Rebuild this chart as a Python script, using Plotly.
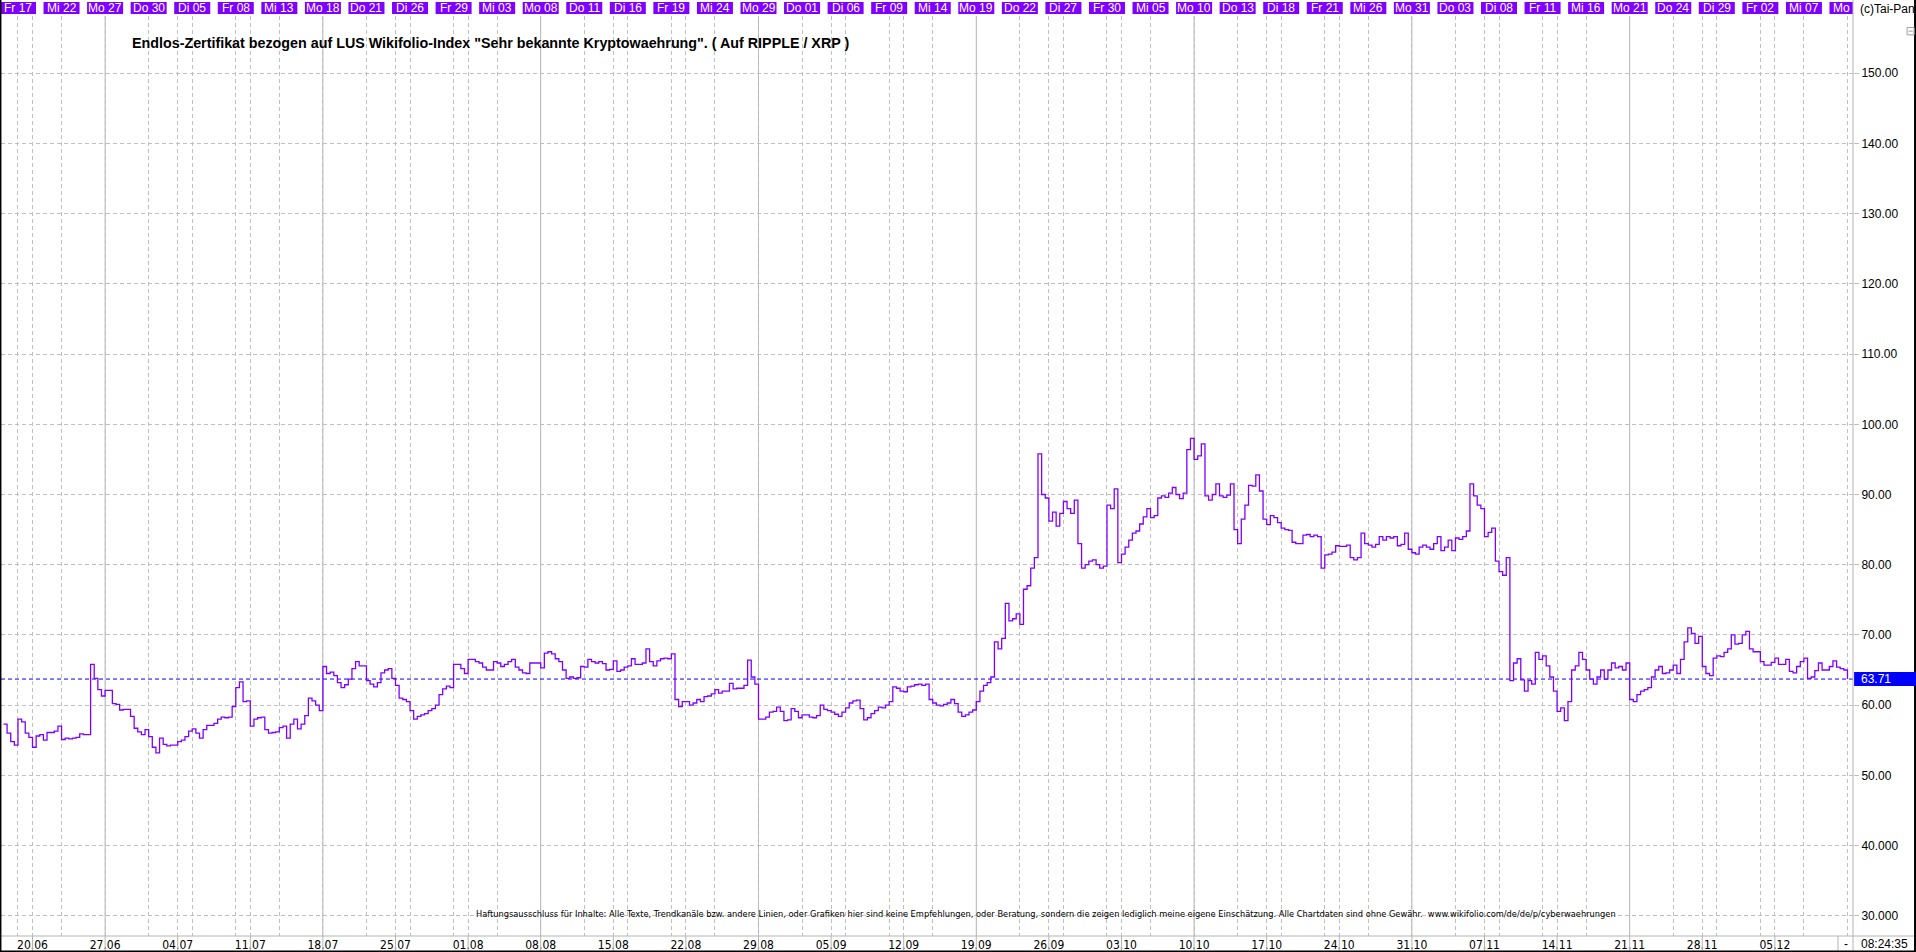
import pandas as pd
import plotly.graph_objects as go

# ---------------- data (4 readings per trading day) ----------------
jun = [
    57.3, 56.0, 54.8, 54.3,   # 16.06
    58.0, 57.6, 56.0, 55.4,   # 17.06
    54.0, 55.6, 55.8, 55.0,   # 20.06
    56.1, 56.1, 56.3, 57.0,   # 21.06
    55.1, 55.3, 55.2, 55.3,   # 22.06
    55.4, 55.9, 55.8, 55.8,   # 23.06
    65.8, 63.8, 62.2, 61.3,   # 24.06
    62.1, 62.1, 60.2, 60.1,   # 27.06
    59.3, 59.4, 59.4, 58.4,   # 28.06
    56.7, 56.2, 55.8, 56.5,   # 29.06
    55.5, 54.0, 53.2, 55.3,   # 30.06
]
jul = [
    54.4, 54.2, 54.3, 54.3,   # 01.07
    54.8, 55.0, 55.5, 56.3,   # 04.07
    56.6, 56.0, 55.3, 56.5,   # 05.07
    57.1, 57.1, 57.4, 58.0,   # 06.07
    58.3, 58.2, 58.3, 59.8,   # 07.07
    62.5, 63.3, 60.5, 60.6,   # 08.07
    57.0, 58.0, 58.2, 58.3,   # 11.07
    56.5, 56.0, 56.1, 56.2,   # 12.07
    56.8, 57.0, 55.3, 57.3,   # 13.07
    58.0, 56.6, 57.3, 58.5,   # 14.07
    61.0, 60.6, 60.0, 59.2,   # 15.07
    65.5, 64.5, 64.7, 64.2,   # 18.07
    63.2, 62.5, 62.9, 63.7,   # 19.07
    65.2, 66.2, 65.6, 65.6,   # 20.07
    63.5, 63.0, 62.6, 63.2,   # 21.07
    64.6, 65.0, 65.2, 63.8,   # 22.07
    62.8, 61.0, 60.8, 60.5,   # 25.07
    59.2, 58.0, 58.4, 58.6,   # 26.07
    58.8, 59.2, 59.5, 60.0,   # 27.07
    61.5, 62.3, 62.7, 62.5,   # 28.07
    65.8, 65.8, 65.2, 64.5,   # 29.07
]
aug = [
    66.5, 66.5, 66.2, 66.0,   # 01.08
    65.4, 65.0, 65.0, 66.2,   # 02.08
    66.0, 65.5, 65.8, 66.2,   # 03.08
    66.5, 65.4, 65.0, 64.6,   # 04.08
    64.5, 66.0, 66.0, 66.0,   # 05.08
    65.3, 67.4, 67.6, 67.3,   # 08.08
    66.6, 66.2, 65.0, 63.8,   # 09.08
    64.0, 63.8, 63.9, 65.5,   # 10.08
    65.4, 66.5, 66.2, 66.0,   # 11.08
    66.2, 65.9, 65.0, 65.1,   # 12.08
    66.3, 64.8, 65.0, 65.4,   # 15.08
    65.6, 66.6, 65.8, 65.8,   # 16.08
    66.0, 68.0, 66.2, 65.6,   # 17.08
    66.3, 66.6, 66.7, 66.6,   # 18.08
    67.3, 60.8, 59.8, 60.5,   # 19.08
    60.5, 60.0, 60.3, 60.8,   # 22.08
    60.5, 61.2, 61.3, 61.6,   # 23.08
    62.2, 61.7, 62.0, 62.0,   # 24.08
    63.1, 62.3, 62.4, 62.4,   # 25.08
    62.8, 66.4, 64.0, 63.0,   # 26.08
    58.0, 58.0, 58.3, 59.0,   # 29.08
    59.1, 59.7, 59.1, 57.8,   # 30.08
    57.9, 59.5, 59.1, 58.2,   # 31.08
]
sep = [
    58.6, 58.6, 58.3, 58.2,   # 01.09
    58.5, 60.0, 59.4, 59.2,   # 02.09
    59.0, 58.7, 58.4, 59.0,   # 05.09
    59.6, 60.3, 60.6, 60.7,   # 06.09
    59.5, 57.9, 58.2, 58.8,   # 07.09
    59.2, 59.7, 59.6, 60.0,   # 08.09
    60.5, 62.6, 62.4, 62.0,   # 09.09
    61.9, 62.6, 62.7, 62.9,   # 12.09
    63.0, 62.8, 63.0, 60.8,   # 13.09
    60.3, 60.0, 59.9, 60.1,   # 14.09
    60.3, 60.8, 60.2, 59.0,   # 15.09
    58.4, 58.6, 59.0, 59.3,   # 16.09
    60.5, 62.0, 62.8, 63.2,   # 19.09
    64.0, 69.0, 68.0, 69.5,   # 20.09
    74.5, 72.0, 72.3, 73.0,   # 21.09
    71.5, 76.5, 77.0, 79.5,   # 22.09
    81.0, 95.8, 90.0, 89.5,   # 23.09
    86.2, 87.5, 85.5, 87.3,   # 26.09
    89.0, 88.0, 87.3, 89.2,   # 27.09
    83.0, 79.5, 80.0, 80.5,   # 28.09
    80.7, 80.0, 79.5, 79.8,   # 29.09
    88.5, 88.0, 90.8, 80.3,   # 30.09
]
octo = [
    81.5, 82.5, 83.5, 84.5,   # 03.10
    84.8, 85.8, 86.8, 88.0,   # 04.10
    86.7, 87.0, 89.5, 89.8,   # 05.10
    89.6, 90.2, 91.0, 90.0,   # 06.10
    89.4, 90.2, 96.4, 98.0,   # 07.10
    95.0, 95.5, 97.2, 89.8,   # 10.10
    89.2, 90.0, 91.5, 89.8,   # 11.10
    89.6, 89.9, 91.5, 85.0,   # 12.10
    83.0, 86.5, 88.5, 91.3,   # 13.10
    91.2, 92.8, 90.5, 86.5,   # 14.10
    85.7, 87.0, 86.7, 86.0,   # 17.10
    85.2, 85.0, 84.9, 83.2,   # 18.10
    83.0, 83.0, 84.2, 84.3,   # 19.10
    84.0, 84.2, 84.0, 79.5,   # 20.10
    81.4, 81.5, 81.8, 82.7,   # 21.10
    82.6, 82.6, 82.8, 81.0,   # 24.10
    80.7, 81.0, 84.5, 83.0,   # 25.10
    82.8, 82.5, 82.9, 84.0,   # 26.10
    83.5, 84.0, 83.8, 84.0,   # 27.10
    82.7, 82.9, 84.5, 82.2,   # 28.10
    81.7, 81.5, 82.5, 82.8,   # 31.10
]
nov = [
    82.5, 82.2, 83.0, 84.0,   # 01.11
    82.0, 82.5, 83.5, 82.0,   # 02.11
    83.8, 83.6, 84.0, 84.8,   # 03.11
    91.5, 89.8, 88.5, 88.0,   # 04.11
    84.0, 84.6, 85.2, 80.5,   # 07.11
    79.0, 78.5, 81.0, 63.5,   # 08.11
    66.0, 66.6, 63.6, 62.0,   # 09.11
    63.5, 63.0, 67.5, 66.5,   # 10.11
    67.0, 65.6, 64.0, 62.0,   # 11.11
    59.1, 59.6, 57.8, 60.5,   # 14.11
    65.0, 65.6, 67.5, 66.5,   # 15.11
    65.0, 63.7, 63.0, 64.0,   # 16.11
    65.0, 63.7, 65.0, 66.0,   # 17.11
    65.3, 65.5, 65.0, 66.0,   # 18.11
    60.8, 60.5, 61.5, 62.0,   # 21.11
    62.2, 62.5, 64.0, 65.0,   # 22.11
    65.5, 64.5, 64.6, 65.0,   # 23.11
    65.7, 64.5, 66.5, 69.0,   # 24.11
    71.0, 70.2, 68.8, 69.8,   # 25.11
    65.5, 64.5, 64.2, 66.7,   # 28.11
    67.0, 66.9, 67.5, 68.0,   # 29.11
    70.0, 68.7, 68.8, 70.0,   # 30.11
]
dec = [
    70.5, 68.0, 67.6, 67.6,   # 01.12
    66.2, 65.7, 65.7, 66.1,   # 02.12
    66.7, 65.8, 65.8, 66.5,   # 05.12
    64.8, 64.6, 65.5, 66.2,   # 06.12
    66.7, 63.8, 64.0, 64.9,   # 07.12
    66.0, 65.0, 65.0, 65.5,   # 08.12
    66.3, 65.4, 65.2, 65.0,   # 09.12
    63.71,                    # 12.12 (08:24)
]
last_price = 63.71
price_label = "63.71"
y_tick_values = [30, 40, 50, 60, 70, 80, 90, 100, 110, 120, 130, 140, 150]
y_tick_labels = ["30.000", "40.000", "50.00", "60.00", "70.00", "80.00", "90.00",
                 "100.00", "110.00", "120.00", "130.00", "140.00", "150.00"]
weekday_names = ["Mo", "Di", "Mi", "Do", "Fr"]
title_text = ('Endlos-Zertifikat bezogen auf LUS Wikifolio-Index "Sehr bekannte '
              'Kryptowaehrung". ( Auf RIPPLE / XRP )')
footer_text = ("Haftungsausschluss für Inhalte: Alle Texte, Trendkanäle bzw. andere Linien, "
               "oder Grafiken hier sind keine Empfehlungen, oder Beratung, sondern die zeigen "
               "lediglich meine eigene Einschätzung. Alle Chartdaten sind ohne Gewähr.  "
               "www.wikifolio.com/de/de/p/cyberwaehrungen")
clock_text = "08:24:35"
copyright_text = "(c)Tai-Pan"

# ---------------- derived positions (trading-day index, 17.06.2022 = 0) ----------------
values = jun + jul + aug + sep + octo + nov + dec
per_day = 4
trading_days = pd.bdate_range("2022-06-16", "2022-12-12")
xs = [-1 + k / per_day for k in range(len(values))]
t_of = {d: i - 1 for i, d in enumerate(trading_days)}

top_days = list(trading_days[1::3])
mondays = [d for d in trading_days if d.weekday() == 0]
label_mondays = [d for d in mondays if d <= pd.Timestamp("2022-12-05")]
solid_mondays = mondays[1::3][:-1]

X_RANGE = [-1.17, 126.38]
Y_RANGE = [27.11, 158.16]
GRID = "#c0c0c0"
DASH = "4px,3px"
PURPLE = "#8000ff"
ARIAL = "Arial, Liberation Sans, sans-serif"
NARROW = "Liberation Sans Narrow, Arial Narrow, DejaVu Sans Condensed, Roboto Condensed, sans-serif"

fig = go.Figure()
fig.add_trace(go.Scatter(
    x=xs, y=values, mode="lines",
    line=dict(color=PURPLE, width=1.3, shape="hv"),
    hoverinfo="skip", showlegend=False,
))

shapes = []
# solid vertical lines every third Monday
for d in solid_mondays:
    shapes.append(dict(type="line", xref="x", yref="paper", x0=t_of[d], x1=t_of[d],
                       y0=0, y1=1, line=dict(color="#b4b4b4", width=1), layer="below"))
# blue dashed last-price line
shapes.append(dict(type="line", xref="paper", yref="y", x0=0, x1=1, y0=last_price, y1=last_price,
                   line=dict(color="#0000ff", width=1, dash=DASH), layer="below"))
# top date boxes
for d in top_days:
    t = t_of[d]
    shapes.append(dict(type="rect", xref="x", yref="paper", x0=t - 1.24, x1=t + 1.24,
                       y0=1.0022, y1=1.0152, fillcolor=PURPLE, line=dict(width=0), layer="above"))
# short gridline pieces through the bottom date labels
for d in label_mondays:
    t = t_of[d]
    shapes.append(dict(type="line", xref="x", yref="paper", x0=t, x1=t, y0=0, y1=-0.0163,
                       line=dict(color="#b4b4b4", width=1), layer="above"))
# frame & axis lines
shapes += [
    dict(type="line", xref="paper", yref="paper", x0=1.0, x1=1.0, y0=-0.0175, y1=1.02,
         line=dict(color="#b4b4b4", width=1)),
    dict(type="line", xref="paper", yref="paper", x0=-0.001, x1=1.034, y0=0, y1=0,
         line=dict(color="#b4b4b4", width=1)),
    dict(type="line", xref="paper", yref="paper", x0=0.9919, x1=0.9919, y0=0, y1=-0.0175,
         line=dict(color="#b4b4b4", width=1)),
    dict(type="line", xref="paper", yref="paper", x0=-0.0003, x1=-0.0003, y0=-0.02, y1=1.02,
         line=dict(color="black", width=2)),
    dict(type="line", xref="paper", yref="paper", x0=-0.001, x1=1.034, y0=-0.0168, y1=-0.0168,
         line=dict(color="black", width=2)),
    dict(type="line", xref="paper", yref="paper", x0=1.0335, x1=1.0335, y0=-0.02, y1=1.02,
         line=dict(color="black", width=2)),
    # blue last-price box
    dict(type="rect", xref="paper", yref="y", x0=1.0006, x1=1.0340,
         y0=last_price - 1.0, y1=last_price + 1.0, fillcolor="#0000ff", line=dict(width=0)),
    # small window icon
    dict(type="rect", xref="paper", yref="paper", x0=1.0292, x1=1.0330, y0=0.9795, y1=0.9875,
         fillcolor="white", line=dict(color="#a0a0a0", width=1)),
    dict(type="line", xref="paper", yref="paper", x0=1.0300, x1=1.0322, y0=0.9835, y1=0.9835,
         line=dict(color="#a0a0a0", width=1)),
]

annotations = []
for d in top_days:
    t = t_of[d]
    txt = f"{weekday_names[d.weekday()]} {d.day:02d}"
    if t + 1.24 > X_RANGE[1]:
        annotations.append(dict(x=t - 1.15, y=1.0087, xref="x", yref="paper", text=txt[:-1],
                                showarrow=False, xanchor="left", yanchor="middle",
                                font=dict(family=ARIAL, size=12, color="white")))
    else:
        annotations.append(dict(x=t, y=1.0087, xref="x", yref="paper", text=txt,
                                showarrow=False, xanchor="center", yanchor="middle",
                                font=dict(family=ARIAL, size=12, color="white")))
annotations += [
    dict(x=0.0697, y=0.9707, xref="paper", yref="paper", text=f"<b>{title_text}</b>",
         showarrow=False, xanchor="left", yanchor="middle",
         font=dict(family=ARIAL, size=14.3, color="black")),
    dict(x=0.2554, y=0.0250, xref="paper", yref="paper", text=footer_text,
         showarrow=False, xanchor="left", yanchor="middle",
         font=dict(family=NARROW, size=9.2, color="black")),
    dict(x=1.0027, y=1.0076, xref="paper", yref="paper", text=copyright_text,
         showarrow=False, xanchor="left", yanchor="middle",
         font=dict(family=ARIAL, size=12, color="black")),
    dict(x=1.0032, y=last_price, xref="paper", yref="y", text=price_label,
         showarrow=False, xanchor="left", yanchor="middle",
         font=dict(family=ARIAL, size=12, color="white")),
    dict(x=1.0032, y=-0.0087, xref="paper", yref="paper", text=clock_text,
         showarrow=False, xanchor="left", yanchor="middle",
         font=dict(family=ARIAL, size=12, color="black")),
    dict(x=0.9960, y=-0.0087, xref="paper", yref="paper", text="-",
         showarrow=False, xanchor="center", yanchor="middle",
         font=dict(family=ARIAL, size=12, color="black")),
]

fig.update_layout(
    width=1916, height=952,
    margin=dict(l=1, r=63, t=16, b=16, pad=0),
    paper_bgcolor="white", plot_bgcolor="white",
    showlegend=False,
    shapes=shapes, annotations=annotations,
    xaxis=dict(
        range=X_RANGE, fixedrange=True,
        tickmode="array", tickvals=[t_of[d] for d in label_mondays],
        ticktext=[d.strftime("%d.%m") for d in label_mondays],
        ticks="", showline=False, zeroline=False,
        showgrid=True, gridcolor=GRID, griddash=DASH, gridwidth=1,
        tickfont=dict(family=NARROW, size=12, color="black"),
        minor=dict(tickmode="array", tickvals=[t_of[d] for d in top_days],
                   showgrid=True, gridcolor=GRID, griddash=DASH, gridwidth=1, ticks=""),
    ),
    yaxis=dict(
        range=Y_RANGE, fixedrange=True, side="right",
        tickmode="array", tickvals=y_tick_values, ticktext=y_tick_labels,
        ticks="outside", ticklen=5, tickcolor=GRID,
        showline=False, zeroline=False,
        showgrid=True, gridcolor=GRID, griddash=DASH, gridwidth=1,
        tickfont=dict(family=ARIAL, size=12, color="black"),
    ),
)

fig.write_html("out.html", include_plotlyjs=True, full_html=True,
               config={"displayModeBar": False},
               post_script="document.body.style.margin='0';document.body.style.overflow='hidden';")
